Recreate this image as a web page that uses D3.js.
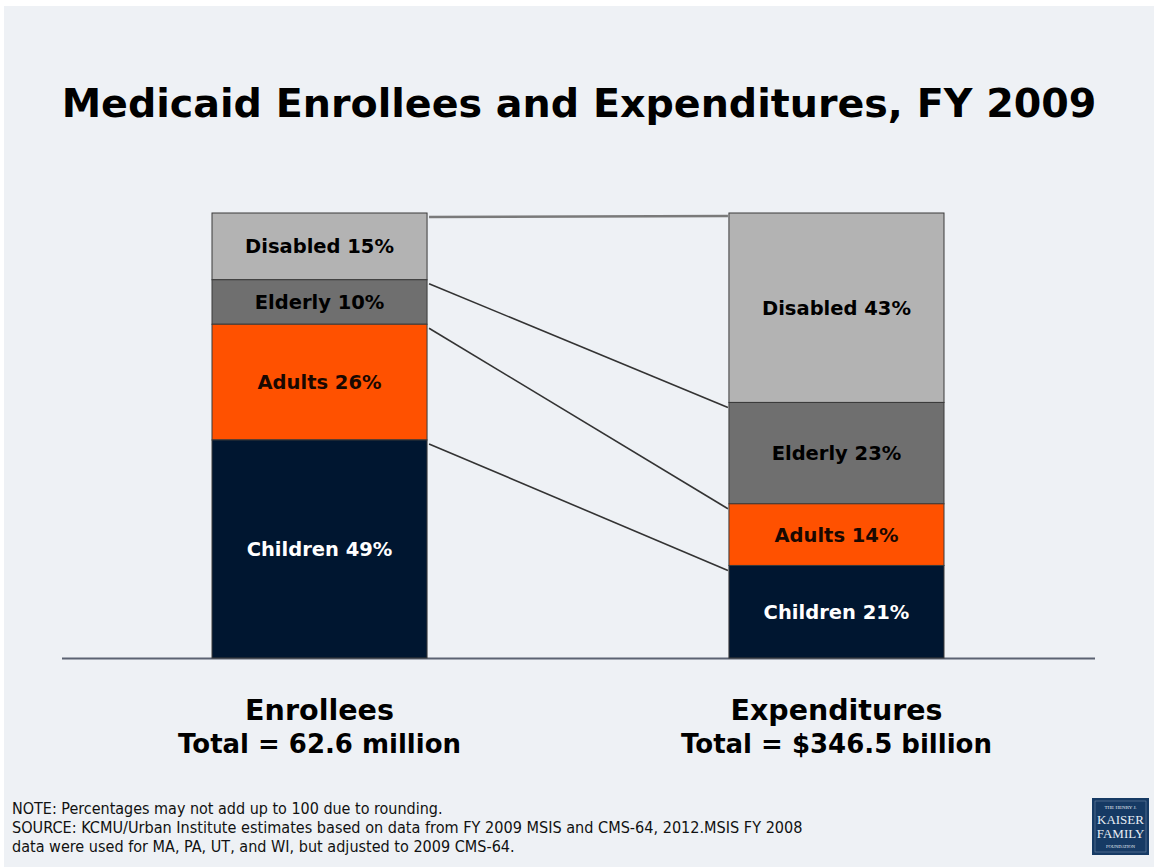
<!DOCTYPE html>
<html><head><meta charset="utf-8">
<script src="https://cdn.jsdelivr.net/npm/d3@7"></script>
<style>html,body{margin:0;padding:0;background:#fff;}svg{display:block;}</style>
</head><body>
<svg id="chart" width="1154" height="867"></svg>
<script>
const title = "Medicaid Enrollees and Expenditures, FY 2009";
const groups = ["Disabled", "Elderly", "Adults", "Children"];
const bars = ["Enrollees", "Expenditures"];
const totals = ["Total = 62.6 million", "Total = $346.5 billion"];
const enrolleeValues = [15, 10, 26, 49];
const expenditureValues = [43, 23, 14, 21];
const colors = ["#b3b3b3", "#6f6f6f", "#ff5100", "#001630"];
const labelColors = ["#000", "#000", "#1a0800", "#fff"];
const notes = [
  "NOTE: Percentages may not add up to 100 due to rounding.",
  "SOURCE:  KCMU/Urban Institute estimates based on data from FY 2009 MSIS and CMS-64, 2012.MSIS FY 2008",
  "data were used for MA, PA, UT, and WI, but adjusted to 2009 CMS-64."
];

const svg = d3.select("#chart");
svg.append("rect").attr("x", 4).attr("y", 6).attr("width", 1150).attr("height", 861).attr("fill", "#eef1f5");

function fitText(sel, width) {
  const w = sel.node().getComputedTextLength();
  const fs = parseFloat(sel.attr("font-size"));
  sel.attr("font-size", fs * width / w);
}

const bold = "DejaVu Sans, Verdana, sans-serif";

// Title
const t = svg.append("text").attr("x", 579).attr("y", 117).attr("text-anchor", "middle")
  .attr("font-family", bold).attr("font-weight", "bold").attr("font-size", 44).attr("fill", "#000").text(title);
fitText(t, 1035);

const x = d3.scaleBand().domain(bars).range([212, 944]).paddingInner(0.584).paddingOuter(0);
const allValues = [enrolleeValues, expenditureValues];
const baseY = 658, topY = 213;

const stacks = allValues.map((vals, bi) => {
  const total = d3.sum(vals);
  const y = d3.scaleLinear().domain([0, total]).range([baseY, topY]);
  let cum = total;
  return vals.map((v, i) => {
    const top = cum; cum -= v;
    return {group: groups[i], value: v, y0: y(top), y1: y(cum), bar: bars[bi], i};
  });
});

// connectors
const c = svg.append("g");
groups.forEach((g, i) => {
  const a = stacks[0][i], b = stacks[1][i];
  c.append("line")
    .attr("x1", x(bars[0]) + x.bandwidth() + 2).attr("y1", a.y0 + 4)
    .attr("x2", x(bars[1]) - 1).attr("y2", b.y0 + (i === 0 ? 3 : 5))
    .attr("stroke", i === 0 ? "#7a7a7a" : "#333").attr("stroke-width", i === 0 ? 2.5 : 1.6);
});

// axis line
svg.append("line").attr("x1", 62).attr("x2", 1095).attr("y1", baseY + 0.5).attr("y2", baseY + 0.5)
  .attr("stroke", "#5b6272").attr("stroke-width", 2);

// bars
stacks.forEach((segs, bi) => {
  const gg = svg.append("g");
  gg.selectAll("rect").data(segs).join("rect")
    .attr("x", x(bars[bi])).attr("width", x.bandwidth())
    .attr("y", d => d.y0).attr("height", d => d.y1 - d.y0)
    .attr("fill", d => colors[d.i]).attr("stroke", "#3a3a3a").attr("stroke-width", 1);
  gg.selectAll("text").data(segs).join("text")
    .attr("x", x(bars[bi]) + x.bandwidth() / 2)
    .attr("y", d => (d.y0 + d.y1) / 2 + 7)
    .attr("text-anchor", "middle").attr("font-family", bold).attr("font-weight", "bold")
    .attr("font-size", 19.5).attr("fill", d => labelColors[d.i])
    .text(d => `${d.group} ${d.value}%`);
});

// category labels
const labW = [149, 212], totW = [283, 311];
bars.forEach((b, bi) => {
  const cx = x(b) + x.bandwidth() / 2;
  const l1 = svg.append("text").attr("x", cx).attr("y", 720).attr("text-anchor", "middle")
    .attr("font-family", bold).attr("font-weight", "bold").attr("font-size", 28).attr("fill", "#000").text(b);
  fitText(l1, labW[bi]);
  const l2 = svg.append("text").attr("x", cx).attr("y", 753).attr("text-anchor", "middle")
    .attr("font-family", bold).attr("font-weight", "bold").attr("font-size", 24).attr("fill", "#000").text(totals[bi]);
  fitText(l2, totW[bi]);
});

// notes
const noteW = [431, 791, 503];
notes.forEach((n, i) => {
  const tt = svg.append("text").attr("x", 12).attr("y", 814 + i * 19)
    .attr("font-family", "DejaVu Sans Condensed, DejaVu Sans, sans-serif").attr("font-size", 12.5).attr("fill", "#111").text(n);
  fitText(tt, noteW[i]);
});

// logo
const lg = svg.append("g").attr("transform", "translate(1092,798)");
lg.append("rect").attr("width", 57).attr("height", 57).attr("fill", "#163a64");
lg.append("rect").attr("x", 3).attr("y", 3).attr("width", 51).attr("height", 51).attr("fill", "none").attr("stroke", "#6f87a6").attr("stroke-width", 0.6);
[["THE HENRY J.", 11, 5], ["KAISER", 26, 13], ["FAMILY", 40, 13], ["FOUNDATION", 50, 4.5]].forEach(([s, y, fs]) => {
  lg.append("text").attr("x", 28.5).attr("y", y).attr("text-anchor", "middle")
    .attr("font-family", "Liberation Serif, serif").attr("font-size", fs).attr("fill", "#e8eef5").text(s);
});
</script>
</body></html>
